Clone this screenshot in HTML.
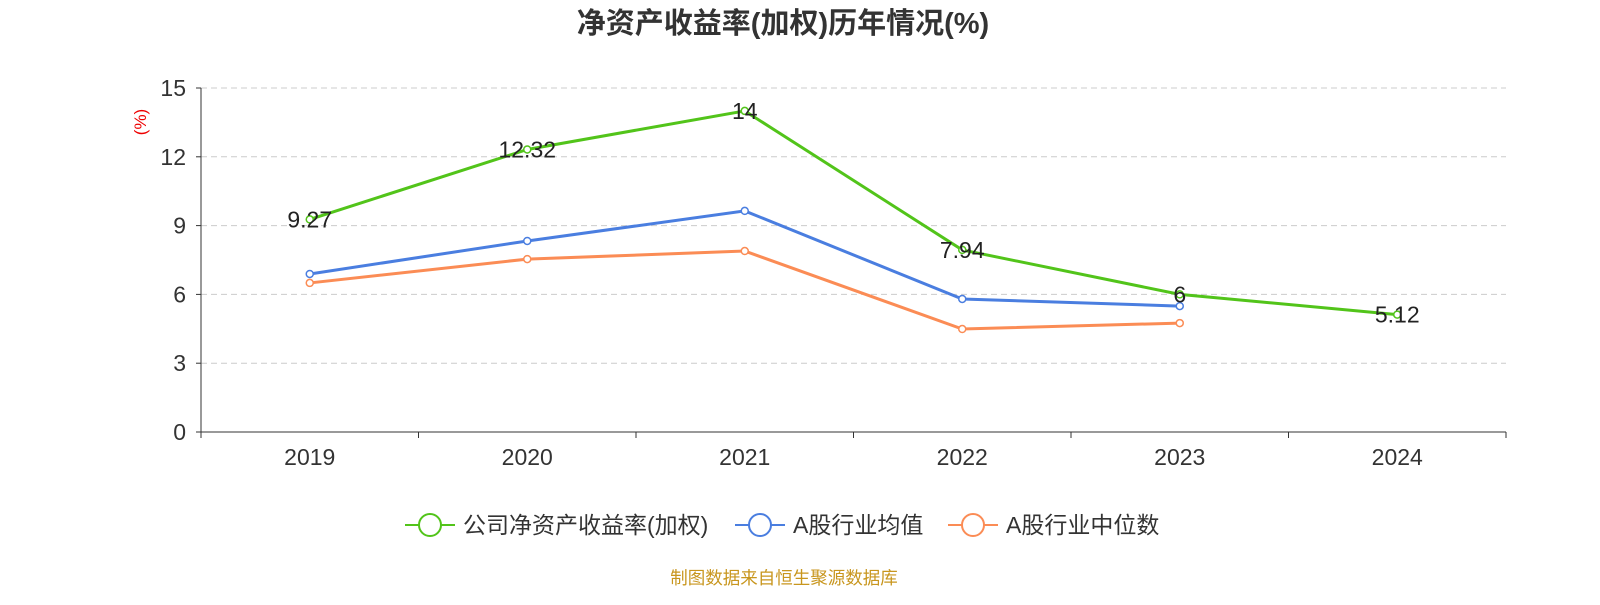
<!DOCTYPE html>
<html><head><meta charset="utf-8"><style>
body{margin:0;background:#fff;width:1600px;height:600px;overflow:hidden}
svg text{font-family:"Liberation Sans","Noto Sans CJK SC",sans-serif}
</style></head><body>
<svg id="c" width="1600" height="600"></svg>
<script>
const categories=["2019","2020","2021","2022","2023","2024"];
const companyVals=[9.27,12.32,14,7.94,6,5.12];
const avgVals=[6.89,8.33,9.64,5.80,5.49,null];
const medVals=[6.50,7.54,7.89,4.49,4.75,null];
const yTicks=[0,3,6,9,12,15];
const NS="http://www.w3.org/2000/svg";
const svg=document.getElementById('c');
const L=201,R=1506,T=88,B=432,yMax=15;
const xs=i=>L+(R-L)/categories.length*(i+0.5);
const ys=v=>B-(B-T)*v/yMax;
function el(t,a,p){const e=document.createElementNS(NS,t);for(const k in a)e.setAttribute(k,a[k]);(p||svg).appendChild(e);return e;}
let t=el('text',{x:783,y:33,'text-anchor':'middle','font-size':29,'font-weight':'bold',fill:'#333'});t.textContent='净资产收益率(加权)历年情况(%)';


yTicks.forEach(v=>{
 if(v>0){const g=el('line',{x1:L,x2:R,y1:ys(v),y2:ys(v),stroke:'#ccc','stroke-dasharray':'6,4'});
 
 }
 const tl=el('text',{x:186,y:ys(v)+8,'text-anchor':'end','font-size':23,fill:'#333'});tl.textContent=v;
 
 
 el('line',{x1:L-5,x2:L,y1:ys(v),y2:ys(v),stroke:'#333'});
});
el('line',{x1:L,x2:L,y1:T,y2:B,stroke:'#333'});
el('line',{x1:L,x2:R,y1:B,y2:B,stroke:'#333'});
for(let i=0;i<=categories.length;i++){const x=L+(R-L)/categories.length*i;el('line',{x1:x,x2:x,y1:B,y2:B+6,stroke:'#333'});}
categories.forEach((c,i)=>{const tl=el('text',{x:xs(i),y:465,'text-anchor':'middle','font-size':23,fill:'#333'});tl.textContent=c;
 
 });
const yl=el('text',{x:0,y:0,transform:'translate(146,122) rotate(-90)','text-anchor':'middle','font-size':17,fill:'#e00'});yl.textContent='(%)';


function series(vals,color,name,labels){
 let d='';vals.forEach((v,i)=>{if(v!=null)d+=(d?'L':'M')+xs(i)+','+ys(v);});
 const p=el('path',{d,fill:'none',stroke:color,'stroke-width':3});
 
 
 vals.forEach((v,i)=>{if(v==null)return;
  const c=el('circle',{cx:xs(i),cy:ys(v),r:3.5,fill:'#fff',stroke:color,'stroke-width':1.5});
  
  
  if(labels){const tl=el('text',{x:xs(i),y:ys(v)+8,'text-anchor':'middle','font-size':23,fill:'#222'});tl.textContent=v;
   
   }
 });
}
series(medVals,'#fb8c55','median');
series(avgVals,'#4a7ee0','average');
series(companyVals,'#52c41a','company',true);
const leg=[['公司净资产收益率(加权)','#52c41a',405],['A股行业均值','#4a7ee0',735],['A股行业中位数','#fb8c55',948]];
leg.forEach(([n,c,x])=>{
 const g=el('g',{});
 
 
 el('line',{x1:x,x2:x+50,y1:525,y2:525,stroke:c,'stroke-width':2},g);
 el('circle',{cx:x+25,cy:525,r:11,fill:'#fff',stroke:c,'stroke-width':2},g);
 const tl=el('text',{x:x+58,y:533,'font-size':23,fill:'#333'},g);tl.textContent=n;
});
const f=el('text',{x:784,y:584,'text-anchor':'middle','font-size':17.5,fill:'#c8961e'});f.textContent='制图数据来自恒生聚源数据库';


</script></body></html>
